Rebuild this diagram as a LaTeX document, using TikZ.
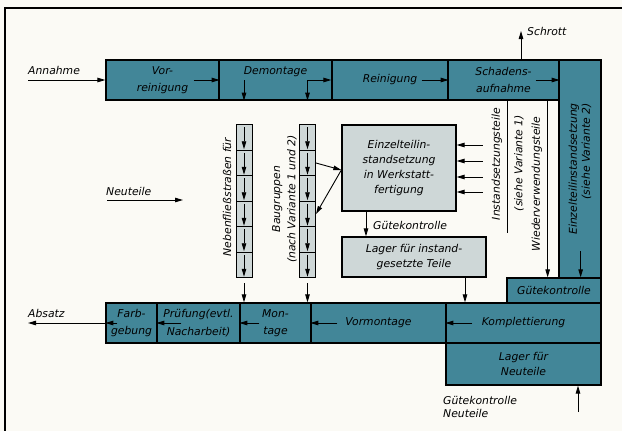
\documentclass[tikz,border=0pt]{standalone}
\usepackage{fontspec}
\setmainfont{DejaVu Sans}
\usetikzlibrary{arrows.meta, positioning, calc}
\definecolor{boxteal}{RGB}{66,134,152}
\definecolor{boxgrey}{RGB}{206,215,215}
\definecolor{paper}{RGB}{251,250,245}
\newcommand{\lblfont}{\itshape\fontsize{10.8}{12.8}\selectfont}

\begin{document}
\begin{tikzpicture}[x=1pt, y=-1pt,
  tbox/.style={draw, line width=1.3pt, fill=boxteal, minimum height=40pt, inner sep=0pt, align=center, font=\lblfont},
  gbox/.style={tbox, fill=boxgrey},
  cell/.style={draw, line width=1pt, fill=boxgrey, minimum width=16pt, minimum height=25.5pt, inner sep=0pt},
  lbl/.style={font=\lblfont, inner sep=0pt},
  vlbl/.style={lbl, rotate=90, align=center},
  flow/.style={-{Triangle[length=8pt, width=4.5pt]}, line width=0.9pt},
  link/.style={line width=0.9pt}
]
  \fill[paper] (0,0) rectangle (622,431);
  \useasboundingbox (0,0) rectangle (622,431);
  \draw[line width=1.4pt] (5,431) -- (5,8) -- (622,8);

  \node[tbox, minimum width=113pt] (vorrein) at (162.5,80) {Vor-\\[4pt]reinigung};
  \node[tbox, minimum width=113pt] (demont) at (275.5,80) {Demontage\\[6pt]\mbox{}};
  \node[tbox, minimum width=116pt] (reinig) at (390,80) {Reinigung};
  \node[tbox, minimum width=111pt] (schaden) at (503.5,80) {Schadens-\\[4pt]aufnahme};
  \node[tbox, rotate=90, minimum width=218pt, minimum height=42pt, align=right] (rcol) at (580,169) {Einzelteilinstandsetzung\\(siehe Variante 2)};
  \node[tbox, minimum width=94pt, minimum height=25pt] (guete) at (554,290.5) {Gütekontrolle};

  \node[tbox, minimum width=155pt] (kompl) at (523.5,323) {Komplettierung};
  \node[tbox, minimum width=155pt, minimum height=42pt] (lagerneu) at (523.5,364) {Lager für\\[2pt]Neuteile};
  \node[tbox, minimum width=135pt] (vormont) at (378.5,323) {Vormontage};
  \node[tbox, minimum width=71pt] (mont) at (275.5,323) {Mon-\\[4pt]tage};
  \node[tbox, minimum width=83pt] (pruef) at (198.5,323) {Prüfung(evtl.\\[5pt]Nacharbeit)};
  \node[tbox, minimum width=51pt] (farb) at (131.5,323) {Farb-\\[5pt]gebung};

  \node[gbox, minimum width=114pt, minimum height=86pt] (einzel) at (399,168) {Einzelteilin-\\[2.5pt]standsetzung\\[2.5pt]in Werkstatt-\\[2.5pt]fertigung};
  \node[gbox, minimum width=144pt] (lagerinst) at (414,257) {Lager für instand-\\[2pt]gesetzte Teile};

  \foreach \i in {1,...,6} {
    \node[cell] (neben\i) at (244,112+25.5*\i) {};
    \node[cell] (baugr\i) at (307.5,112+25.5*\i) {};
    \draw[flow] ([yshift=-3pt]neben\i.north) -- ([yshift=1.5pt]neben\i.south);
    \draw[flow] ([yshift=-3pt]baugr\i.north) -- ([yshift=1.5pt]baugr\i.south);
  }

  \node[vlbl] (nebenL) at (227,197) {Nebenfließstraßen für};
  \node[vlbl] (baugrL) at (284.5,199) {Baugruppen\\[2.4pt](nach Variante 1 und 2)};
  \node[vlbl] (instL) at (497,164) {Instandsetzungsteile};
  \node[vlbl] (varL) at (519,163) {(siehe Variante 1)};
  \node[vlbl] (wiederL) at (537,184) {Wiederverwendungsteile};

  \node[lbl, anchor=west] (annahmeL) at (28,70) {Annahme};
  \node[lbl, anchor=west] (schrottL) at (527,31) {Schrott};
  \node[lbl, anchor=west] (neuL) at (106,191) {Neuteile};
  \node[lbl, anchor=west] (gkL) at (373,225) {Gütekontrolle};
  \node[lbl, anchor=west] (absatzL) at (28,313) {Absatz};
  \node[lbl, anchor=north west, align=left] (gknL) at (443,396) {Gütekontrolle\\Neuteile};

  \coordinate (annahme) at (28,80);
  \coordinate (schrott) at (521,31);
  \coordinate (neuS) at (107,200);
  \coordinate (neuE) at (183,200);
  \coordinate (absatz) at (28,323);
  \coordinate (instEnd) at (507,233);
  \coordinate (wv) at ([xshift=-12pt]schaden.south east);
  \coordinate (bin) at ($(einzel.west)+(0,2)$);
  \coordinate (gk) at ([xshift=-33pt]einzel.south);
  \coordinate (lk) at ([xshift=51pt]lagerinst.south);
  \coordinate (gkn) at (578,412);

  \draw[flow] (annahme) -- (vorrein.west);
  \draw[flow] ([xshift=-26pt]vorrein.east) -- (vorrein.east);
  \draw[flow] (demont.center -| neben1) -- (demont.south -| neben1);
  \draw[flow] (demont.center -| baugr1) -- (demont.south -| baugr1);
  \draw[flow] (demont.center -| baugr1) -- (reinig.west);
  \draw[flow] ([xshift=-27pt]reinig.east) -- (reinig.east);
  \draw[flow] ([xshift=-24pt]schaden.east) -- (schaden.east);
  \draw[flow] (schrott |- schaden.north) -- (schrott);

  \draw[link] (instEnd |- schaden.south) -- (instEnd);
  \draw[flow] (wv) -- (wv |- guete.north);
  \draw[flow] ($(guete.north east)+(-21,-26)$) -- ($(guete.north east)+(-21,0)$);
  \foreach \dy in {-23,-7,9,24}
    \draw[flow] ($(einzel.east)+(26,\dy)$) -- ($(einzel.east)+(0,\dy)$);

  \draw[flow] (baugr2.east) -- (bin);
  \draw[flow] (bin) -- (baugr4.east);
  \draw[flow] (gk) -- (gk |- lagerinst.north);
  \draw[flow] (lk) -- (lk |- kompl.north);
  \draw[flow] ([yshift=-5pt]neben6.south) -- (neben6.south |- mont.north);
  \draw[flow] ([yshift=-5pt]baugr6.south) -- (baugr6.south |- mont.north);
  \draw[flow] (neuS) -- (neuE);

  \draw[flow] ([xshift=27pt]kompl.west) -- (kompl.west);
  \draw[flow] ([xshift=27pt]vormont.west) -- (vormont.west);
  \draw[flow] ([xshift=20pt]mont.west) -- (mont.west);
  \draw[flow] ([xshift=25pt]pruef.west) -- (pruef.west);
  \draw[flow] ([xshift=12pt]farb.west) -- (farb.west);
  \draw[flow] (farb.west) -- (absatz);
  \draw[flow] (gkn) -- (gkn |- lagerneu.south);
\end{tikzpicture}
\end{document}
